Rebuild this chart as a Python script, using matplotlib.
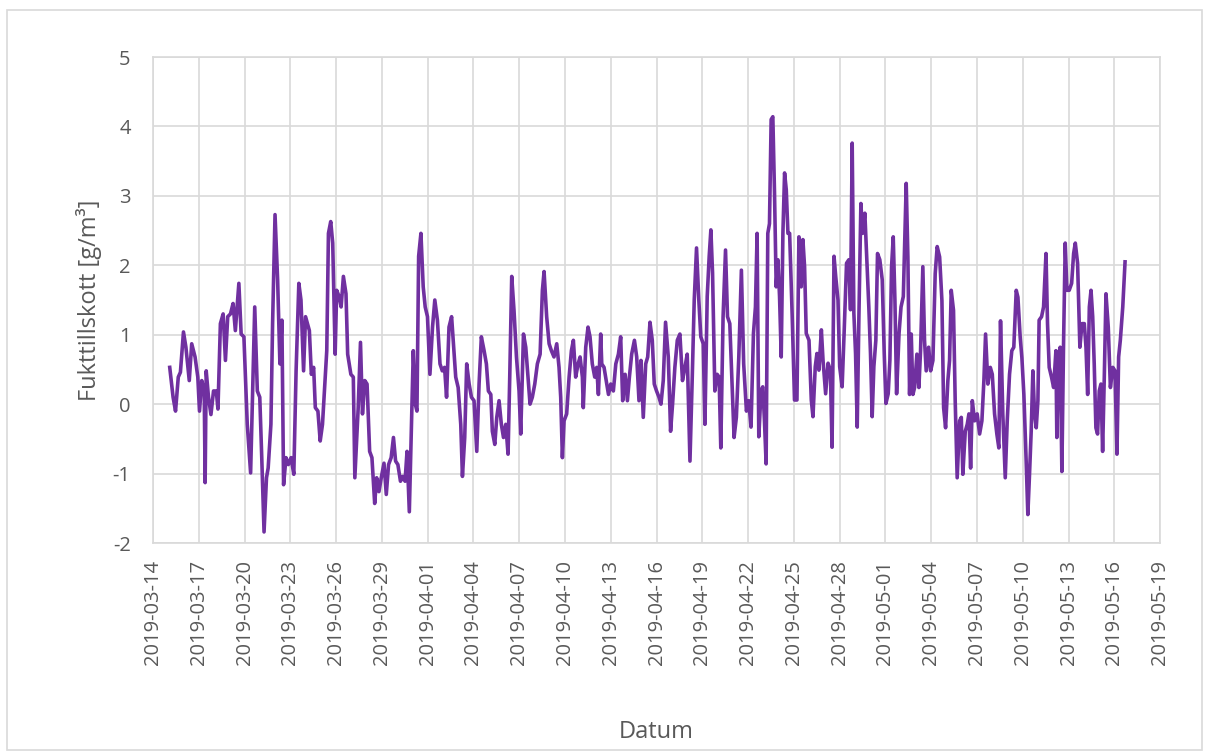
import pandas as pd
import matplotlib
matplotlib.use("Agg")
import matplotlib.pyplot as plt
import matplotlib.dates as mdates
from matplotlib.patches import Rectangle

# startdatum for the series, values are given as days after this
startdatum = "2019-03-14"

dagar = [
    1.1, 1.32, 1.48, 1.66, 1.8, 2.0, 2.16, 2.38, 2.54, 2.76, 2.94, 3.05, 3.2, 3.36, 3.42, 3.49,
    3.64, 3.8, 3.97, 4.15, 4.26, 4.42, 4.6, 4.75, 4.9, 5.08, 5.25, 5.4, 5.63, 5.78, 5.96, 6.18,
    6.4, 6.5, 6.67, 6.84, 7.0, 7.13, 7.28, 7.44, 7.55, 7.73, 7.84, 8.0, 8.17, 8.32, 8.45, 8.56,
    8.72, 8.87, 9.05, 9.23, 9.38, 9.56, 9.7, 9.87, 10.0,
    10.25, 10.38, 10.53, 10.64, 10.81, 10.96, 11.11, 11.24, 11.39, 11.5, 11.65, 11.78, 11.94,
    12.04, 12.2, 12.33, 12.48, 12.65, 12.76, 12.97, 13.13, 13.23, 13.45, 13.6, 13.73, 13.88,
    14.03, 14.2, 14.35, 14.53, 14.66, 14.81, 14.96, 15.14, 15.29, 15.44, 15.61, 15.76, 15.9,
    16.05, 16.22, 16.37, 16.52, 16.65, 16.8, 16.95, 17.06, 17.19, 17.3, 17.41, 17.56, 17.71,
    17.84, 17.99, 18.15, 18.32, 18.47, 18.64, 18.81, 18.96, 19.11, 19.24, 19.4, 19.57,
    19.84, 20.0, 20.17, 20.28, 20.43, 20.56, 20.72, 20.87, 21.04, 21.22, 21.37, 21.52, 21.7,
    21.85, 21.98, 22.14, 22.24, 22.4, 22.53, 22.68, 22.83, 22.97, 23.12, 23.27, 23.38, 23.51,
    23.66, 23.82, 23.99, 24.1, 24.28, 24.43, 24.58, 24.71, 24.86, 25.02, 25.19, 25.37, 25.52,
    25.63, 25.8, 25.96, 26.11, 26.28, 26.46, 26.61, 26.72, 26.83, 26.94, 27.11, 27.27, 27.42,
    27.55, 27.7, 27.86, 27.99, 28.14, 28.2, 28.36, 28.51, 28.64, 28.79, 28.95, 29.08, 29.19,
    29.34,
    29.41, 29.56, 29.7, 29.85, 30.0, 30.17, 30.33, 30.5, 30.65, 30.78, 30.94, 31.09, 31.22,
    31.37, 31.55, 31.7, 31.85, 31.98, 32.13, 32.29, 32.42, 32.57, 32.72, 32.85, 33.0, 33.16,
    33.29, 33.44, 33.59, 33.77, 33.92, 34.05, 34.2, 34.36, 34.53, 34.7, 34.86, 35.01, 35.19,
    35.34, 35.47, 35.62, 35.77, 35.9, 36.06, 36.17, 36.32, 36.45, 36.56, 36.67, 36.82, 36.97,
    37.1, 37.21, 37.36, 37.52, 37.65, 37.8, 37.95, 38.08, 38.23, 38.39, 38.56, 38.71, 38.89,
    39.04,
    39.19, 39.35, 39.48, 39.59, 39.7, 39.85, 39.96, 40.07, 40.18, 40.29, 40.4, 40.51, 40.62,
    40.73, 40.84, 40.95, 41.06, 41.17, 41.28, 41.39, 41.5, 41.61, 41.72, 41.89, 42.04, 42.2,
    42.33, 42.48, 42.59, 42.7, 42.81, 42.99, 43.14, 43.25, 43.4, 43.51, 43.64, 43.8, 43.91,
    44.08, 44.24, 44.39, 44.5, 44.63, 44.74, 44.89, 45.0, 45.16, 45.29, 45.45, 45.6, 45.71,
    45.82, 45.93, 46.04, 46.15, 46.26, 46.39, 46.5, 46.65, 46.76, 46.91, 47.02, 47.13, 47.24,
    47.37, 47.48, 47.63, 47.79, 47.92, 48.03, 48.18, 48.29, 48.4, 48.51, 48.62, 48.73, 48.89,
    49.02, 49.17,
    49.36, 49.47, 49.58, 49.69, 49.8, 49.91, 50.06, 50.19, 50.3, 50.45, 50.56, 50.67, 50.83,
    50.96, 51.11, 51.26, 51.39, 51.55, 51.7, 51.81, 51.94, 52.09, 52.2, 52.31, 52.46, 52.57,
    52.7, 52.86, 52.97, 53.07, 53.23, 53.36, 53.47, 53.58, 53.69, 53.84, 54.01, 54.17, 54.32,
    54.45, 54.56, 54.71, 54.87, 55.0, 55.15, 55.3, 55.43, 55.54, 55.69, 55.85, 55.98, 56.13,
    56.28, 56.41, 56.57, 56.68, 56.83, 56.94, 57.07, 57.22, 57.33, 57.44, 57.55, 57.66, 57.77,
    57.88, 57.99,
    58.07, 58.23, 58.36, 58.52, 58.62, 58.73, 58.88, 59.02, 59.17, 59.23, 59.34, 59.45, 59.56,
    59.67, 59.78, 59.89, 60.04, 60.2, 60.33, 60.44, 60.59, 60.74, 60.88, 61.03, 61.14, 61.25,
    61.36, 61.47, 61.58, 61.68, 61.79, 61.9, 62.01, 62.12, 62.23, 62.34, 62.45, 62.6, 62.74,
    62.9, 63.04, 63.17, 63.28, 63.39, 63.55, 63.7,
]

fukt = [
    0.53, 0.1, -0.1, 0.39, 0.46, 1.04, 0.82, 0.34, 0.87, 0.68, 0.39, -0.1, 0.34, 0.19, -1.13, 0.48,
    0.1, -0.15, 0.19, 0.19, -0.07, 1.16, 1.3, 0.63, 1.26, 1.3, 1.45, 1.06, 1.74, 1.01, 0.97, -0.29,
    -0.99, -0.1, 1.4, 0.19, 0.1, -0.77, -1.84, -1.06, -0.92, -0.29, 1.16, 2.73, 1.79, 0.58, 1.21, -1.16,
    -0.77, -0.87, -0.77, -1.01, 0.48, 1.74, 1.5, 0.48, 1.26,
    1.06, 0.43, 0.53, -0.05, -0.1, -0.53, -0.29, 0.19, 0.77, 2.46, 2.63, 2.32, 0.72,
    1.64, 1.55, 1.4, 1.84, 1.59, 0.72, 0.43, 0.39, -1.06, -0.05, 0.89, -0.14, 0.34,
    0.29, -0.68, -0.77, -1.43, -1.06, -1.26, -1.06, -0.85, -1.3, -0.87, -0.77, -0.48, -0.82,
    -0.87, -1.11, -1.04, -1.11, -0.68, -1.55, -0.19, 0.77, 0.0, -0.1, 2.13, 2.46, 1.69,
    1.4, 1.26, 0.43, 1.11, 1.5, 1.21, 0.58, 0.48, 0.53, 0.1, 1.11, 1.26,
    0.39, 0.24, -0.29, -1.04, -0.48, 0.58, 0.29, 0.1, 0.05, -0.68, 0.29, 0.97, 0.77,
    0.58, 0.19, 0.14, -0.39, -0.58, -0.19, 0.05, -0.29, -0.48, -0.29, -0.72, 0.39, 1.84,
    1.35, 0.68, 0.19, -0.43, 1.01, 0.82, 0.39, 0.0, 0.1, 0.29, 0.58, 0.72, 1.64,
    1.91, 1.26, 0.87, 0.77, 0.68, 0.87, 0.53, 0.1, -0.77, -0.24, -0.14, 0.39, 0.77,
    0.92, 0.39, 0.58, 0.68, 0.39, -0.05, 0.82, 1.11, 0.97, 0.58, 0.39, 0.53, 0.14,
    1.01,
    0.58, 0.53, 0.34, 0.14, 0.29, 0.19, 0.58, 0.72, 0.97, 0.05, 0.43, 0.05, 0.39,
    0.72, 0.92, 0.68, 0.05, 0.63, -0.19, 0.58, 0.68, 1.18, 0.92, 0.29, 0.19, 0.1,
    0.0, 0.34, 1.18, 0.68, -0.39, 0.0, 0.53, 0.92, 1.01, 0.34, 0.53, 0.72, -0.82,
    0.39, 1.5, 2.25, 1.5, 0.97, 0.87, -0.29, 1.55, 2.13, 2.51, 1.89, 0.19, 0.43,
    0.39, -0.63, 1.26, 2.22, 1.26, 1.16, 0.29, -0.48, -0.19, 0.68, 1.93, 0.58, -0.1,
    0.05,
    -0.33, 1.02, 1.4, 2.46, -0.47, 0.2, 0.25, -0.23, -0.86, 2.46, 2.6, 4.1, 4.14,
    3.04, 1.69, 2.08, 1.55, 0.68, 2.46, 3.33, 3.09, 2.46, 2.46, 1.26, 0.06, 0.06,
    2.41, 1.69, 2.37, 1.98, 1.02, 0.92, 0.06, -0.18, 0.54, 0.73, 0.49, 1.07, 0.63,
    0.15, 0.59, 0.49, -0.62, 2.13, 1.84, 1.5, 0.54, 0.25, 1.02, 2.03, 2.08, 1.36,
    3.76, 1.31, 0.73, -0.33, 1.26, 2.89, 2.46, 2.75, 2.17, 1.4, 0.73, -0.18, 0.54,
    0.92, 2.17, 2.08, 1.79, 0.73, 0.01, 0.15, 0.63, 1.98, 2.41, 1.5, 0.15, 1.02,
    1.4, 1.55,
    3.18, 2.12, 0.14, 1.01, 0.14, 0.24, 0.72, 0.24, 0.77, 1.98, 0.92, 0.48, 0.82,
    0.48, 0.63, 1.88, 2.27, 2.12, 1.49, -0.05, -0.34, 0.34, 0.63, 1.64, 1.35, 0.05,
    -1.06, -0.24, -0.19, -1.01, -0.39, -0.29, -0.14, -0.92, 0.05, -0.24, -0.14, -0.43, -0.24,
    0.34, 1.01, 0.29, 0.53, 0.43, -0.14, -0.43, -0.63, 1.2, -0.14, -1.06, -0.24, 0.43,
    0.77, 0.82, 1.64, 1.54, 0.96, 0.67, 0.14, -0.82, -1.59, -1.01, -0.39, 0.48, -0.14,
    -0.34, 0.05,
    1.21, 1.26, 1.4, 2.17, 1.16, 0.53, 0.39, 0.24, 0.77, -0.48, 0.68, 0.82, -0.97,
    0.87, 2.32, 1.64, 1.64, 1.74, 2.17, 2.32, 2.03, 0.82, 1.16, 1.16, 0.82, 0.14,
    1.4, 1.64, 1.26, 0.58, -0.34, -0.43, 0.19, 0.29, -0.68, 0.39, 1.59, 1.11, 0.24,
    0.53, 0.48, -0.72, 0.68, 0.92, 1.4, 2.05,
]

yticks = [-2, -1, 0, 1, 2, 3, 4, 5]
xstart = "2019-03-14"
xslut = "2019-05-19"

datum = pd.Timestamp(startdatum) + pd.to_timedelta(dagar, unit="D")

textfarg = "#595959"
gridfarg = "#D9D9D9"
plt.rcParams["font.family"] = ["Open Sans", "DejaVu Sans"]
plt.rcParams["axes.unicode_minus"] = False

fig = plt.figure(figsize=(12.1, 7.56), dpi=100)
ax = fig.add_axes([0.1264, 0.2817, 0.8324, 0.6429])

ax.plot(datum, fukt, color="#7030A0", linewidth=2.6, solid_joinstyle="round")

ax.set_xlim(pd.Timestamp(xstart), pd.Timestamp(xslut))
ax.set_ylim(-2, 5)
ax.set_yticks(yticks)
ax.set_xticks(pd.date_range(xstart, xslut, freq="3D"))
ax.xaxis.set_major_formatter(mdates.DateFormatter("%Y-%m-%d"))
plt.setp(ax.get_xticklabels(), rotation=90)

ax.grid(True, color=gridfarg, linewidth=1.2)
ax.set_axisbelow(True)
for s in ax.spines.values():
    s.set_color(gridfarg)
    s.set_linewidth(1.2)
ax.tick_params(axis="both", length=0, colors=textfarg, labelsize=14.5)
ax.tick_params(axis="y", pad=16)
ax.tick_params(axis="x", pad=12)

ax.set_xlabel("Datum", fontsize=17, color=textfarg, labelpad=40)
ax.set_ylabel("Fukttillskott [g/m³]", fontsize=17, color=textfarg, labelpad=8)

fig.patches.append(Rectangle((0.006, 0.008), 0.987, 0.979, transform=fig.transFigure,
                             fill=False, edgecolor=gridfarg, linewidth=1.2))

fig.savefig("out.png", dpi=100)
